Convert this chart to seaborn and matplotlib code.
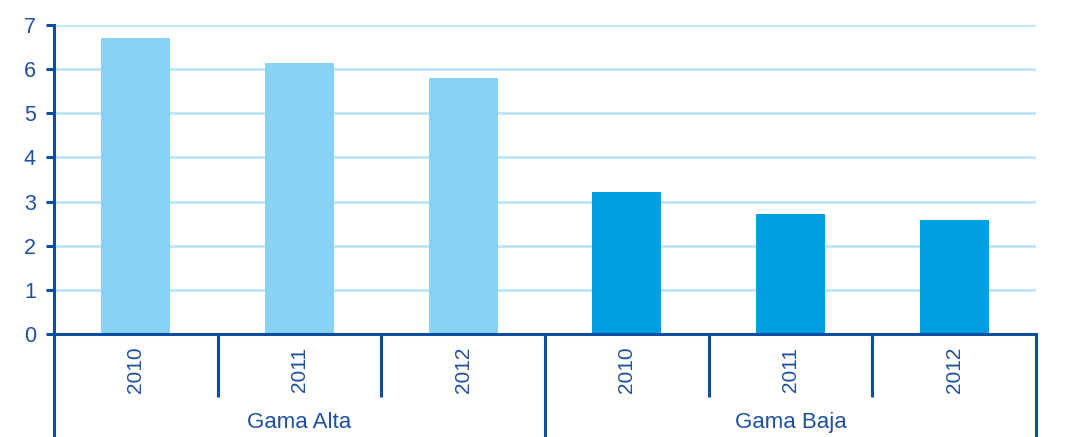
import matplotlib
matplotlib.use("Agg")
import matplotlib.pyplot as plt
import matplotlib.transforms as mtransforms
import seaborn as sns
import pandas as pd

# Data
groups = ["Gama Alta", "Gama Alta", "Gama Alta", "Gama Baja", "Gama Baja", "Gama Baja"]
years = ["2010", "2011", "2012", "2010", "2011", "2012"]
values = [6.7, 6.13, 5.8, 3.22, 2.72, 2.58]
group_names = ["Gama Alta", "Gama Baja"]

LIGHT = "#8AD2F3"
DARK = "#009FE3"
GRID = "#BDE7F8"
AXIS = "#0B4EA2"
TEXT = "#1F4FA0"

sns.set_theme(style="white")
plt.rcParams["font.family"] = ["Liberation Sans", "DejaVu Sans"]

df = pd.DataFrame({
    "slot": [f"{g} {y}" for g, y in zip(groups, years)],
    "gama": groups,
    "valor": values,
})

fig = plt.figure(figsize=(10.86, 4.37), dpi=100)
ax = fig.add_axes([54 / 1086, 1 - 334 / 437, (1036 - 54) / 1086, 309 / 437])

sns.barplot(data=df, x="slot", y="valor", hue="gama",
            palette={"Gama Alta": LIGHT, "Gama Baja": DARK},
            saturation=1, dodge=False, width=0.42, legend=False, ax=ax,
            edgecolor="none", linewidth=0)

ax.set_xlim(-0.5, len(values) - 0.5)
ax.set_ylim(0, 7)
ax.set_yticks(range(0, 8))
ax.set_axisbelow(True)
ax.yaxis.grid(True, color=GRID, linewidth=2)
ax.xaxis.grid(False)
ax.set_xlabel("")
ax.set_ylabel("")

for side in ["top", "right"]:
    ax.spines[side].set_visible(False)
for side in ["left", "bottom"]:
    ax.spines[side].set_color(AXIS)
    ax.spines[side].set_linewidth(2.2)

ax.tick_params(axis="y", colors=AXIS, labelcolor=TEXT, labelsize=15.5,
               length=6, width=2.2, direction="out", pad=7, left=True)
ax.set_xticks(range(len(years)))
ax.set_xticklabels(years, rotation=90, fontsize=15, color=TEXT)
ax.tick_params(axis="x", length=0, pad=9)

# Category separators below the axis
trans = mtransforms.blended_transform_factory(ax.transData, ax.transAxes)
n = len(values)
for i in range(n + 1):
    x = i - 0.5
    if i in (0, 3, n):
        y_end = -0.335
    else:
        y_end = -0.204
    ax.plot([x, x], [0, y_end], color=AXIS, linewidth=2.2,
            transform=trans, clip_on=False, solid_capstyle="butt")

# Group labels
for k, name in enumerate(group_names):
    ax.text(k * 3 + 1, -0.285, name, transform=trans, ha="center",
            va="center", fontsize=16, color=TEXT)

fig.savefig("out.png", dpi=100, facecolor="white")
